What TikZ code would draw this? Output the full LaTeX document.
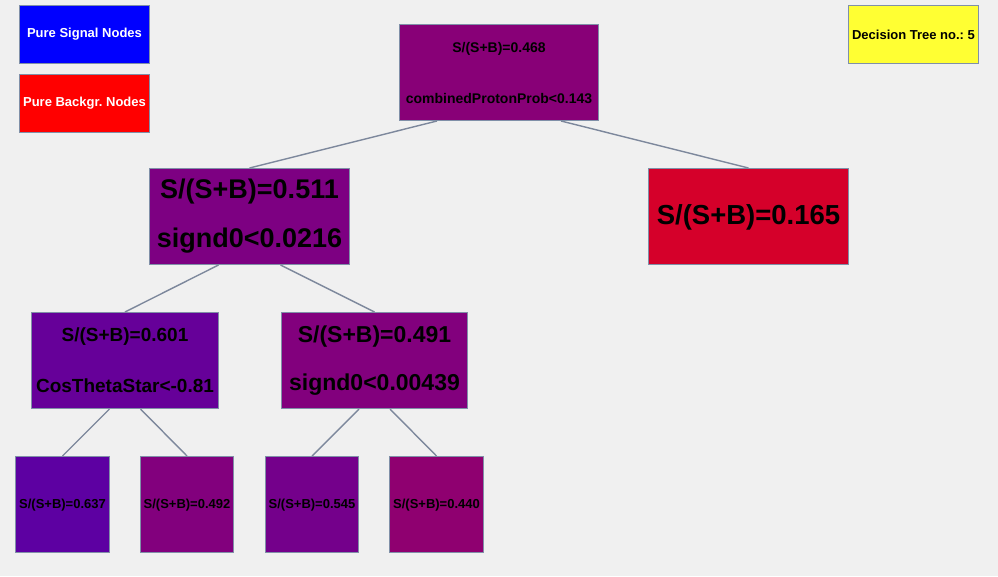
\documentclass[tikz,border=0pt]{standalone}
\usepackage{fontspec}
\setmainfont{Liberation Sans}
\usetikzlibrary{calc}
\definecolor{bg}{HTML}{F0F0F0}
\definecolor{bord}{HTML}{8090A8}
\definecolor{edgec}{HTML}{7D889C}
\definecolor{puresig}{HTML}{0000FF}
\definecolor{purebkg}{HTML}{FF0000}
\definecolor{yel}{HTML}{FFFF33}
\definecolor{cA}{HTML}{880077}
\definecolor{cB}{HTML}{7D0082}
\definecolor{cC}{HTML}{D5002A}
\definecolor{cD}{HTML}{660099}
\definecolor{cE}{HTML}{82007D}
\definecolor{cF}{HTML}{5D00A2}
\definecolor{cG}{HTML}{82007D}
\definecolor{cH}{HTML}{74008B}
\definecolor{cI}{HTML}{8F0070}
\frenchspacing
\begin{document}
\begin{tikzpicture}[x=1pt,y=-1pt,
  box/.style={draw=bord, line width=1pt, inner sep=0pt, anchor=north west},
  tree/.style={box, minimum height=96pt},
  edgeline/.style={draw=edgec, line width=1.4pt},
  fs/.style={font=\fontsize{#1}{#1}\selectfont\bfseries\frenchspacing, inner sep=0pt}]
\fill[bg] (0,0) rectangle (998,576);
\useasboundingbox (0,0) rectangle (998,576);

% legend
\node[box, fill=puresig, minimum width=130pt, minimum height=58pt, text=white, fs=13] (sig) at (19,5) {Pure Signal Nodes};
\node[box, fill=purebkg, minimum width=130pt, minimum height=58pt, text=white, fs=13] (bkg) at (19,74) {Pure Backgr. Nodes};
\node[box, fill=yel, minimum width=130pt, minimum height=58pt, fs=13] (dt) at (848,5) {Decision Tree no.: 5};

% tree boxes
\node[tree, fill=cA, minimum width=199pt] (root) at (399,24) {};
\node[tree, fill=cB, minimum width=200pt] (lc) at (149,168) {};
\node[tree, fill=cC, minimum width=200pt] (rc) at (648,168) {};
\node[tree, fill=cD, minimum width=187pt] (ll) at (31,312) {};
\node[tree, fill=cE, minimum width=186pt] (lr) at (281,312) {};
\node[tree, fill=cF, minimum width=94pt] (l1) at (15,456) {};
\node[tree, fill=cG, minimum width=93pt] (l2) at (140,456) {};
\node[tree, fill=cH, minimum width=93pt] (l3) at (265,456) {};
\node[tree, fill=cI, minimum width=94pt] (l4) at (389,456) {};

% texts
\node[fs=14] (rootA) at ($(root.center)+(0,-23.5)$) {S/(S+B)=0.468};
\node[fs=14] (rootB) at ($(root.center)+(0,26)$) {combinedProtonProb<0.143};
\node[fs=27] (lcA) at ($(lc.center)+(0,-24.5)$) {S/(S+B)=0.511};
\node[fs=27] (lcB) at ($(lc.center)+(0,24.5)$) {signd0<0.0216};
\node[fs=27.5] (rcA) at ($(rc.center)+(0,0.5)$) {S/(S+B)=0.165};
\node[fs=19] (llA) at ($(ll.center)+(0,-23.5)$) {S/(S+B)=0.601};
\node[fs=19] (llB) at ($(ll.center)+(0,25.5)$) {CosThetaStar<-0.81};
\node[fs=23] (lrA) at ($(lr.center)+(0,-23.5)$) {S/(S+B)=0.491};
\node[fs=23] (lrB) at ($(lr.center)+(0,24.5)$) {signd0<0.00439};
\node[fs=13] (l1A) at ($(l1.center)+(0,1)$) {S/(S+B)=0.637};
\node[fs=13] (l2A) at ($(l2.center)+(0,1)$) {S/(S+B)=0.492};
\node[fs=13] (l3A) at ($(l3.center)+(0,1)$) {S/(S+B)=0.545};
\node[fs=13] (l4A) at ($(l4.center)+(0,1)$) {S/(S+B)=0.440};

% edges
\draw[edgeline] ($(root.south)+(-62,0)$) -- (lc.north);
\draw[edgeline] ($(root.south)+(62,0)$) -- (rc.north);
\draw[edgeline] ($(lc.south)+(-31,0)$) -- (ll.north);
\draw[edgeline] ($(lc.south)+(31,0)$) -- (lr.north);
\draw[edgeline] ($(ll.south)+(-15.5,0)$) -- (l1.north);
\draw[edgeline] ($(ll.south)+(15.5,0)$) -- (l2.north);
\draw[edgeline] ($(lr.south)+(-15.5,0)$) -- (l3.north);
\draw[edgeline] ($(lr.south)+(15.5,0)$) -- (l4.north);
\end{tikzpicture}
\end{document}
